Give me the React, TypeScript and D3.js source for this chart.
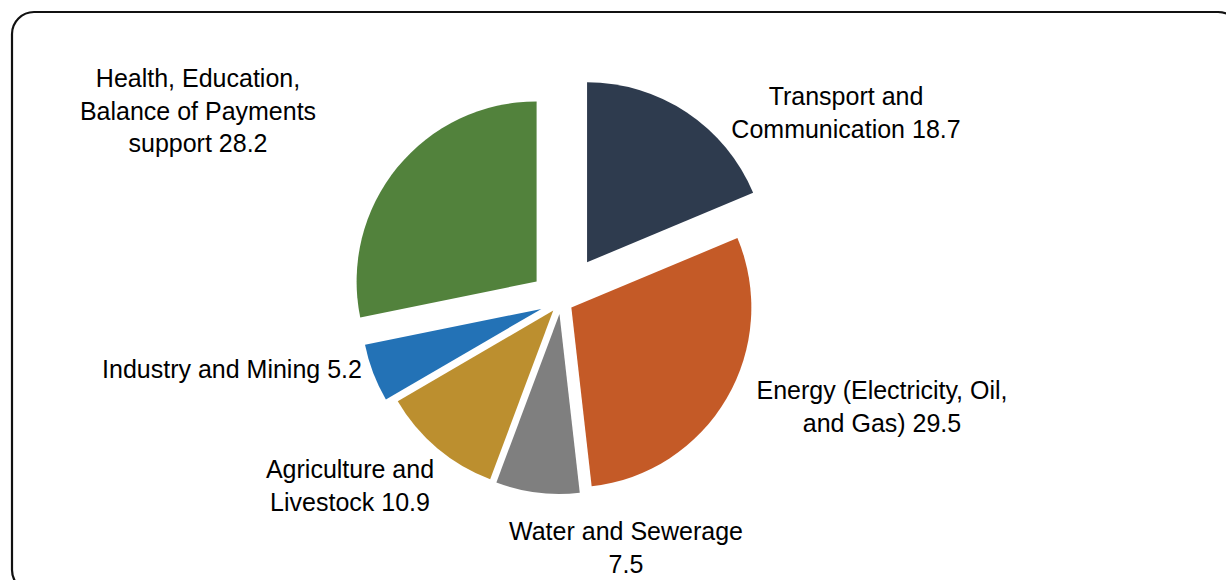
import React from "react";
import * as d3 from "d3";

const categories = [
  "Transport and Communication",
  "Energy (Electricity, Oil, and Gas)",
  "Water and Sewerage",
  "Agriculture and Livestock",
  "Industry and Mining",
  "Health, Education, Balance of Payments support",
];
const values = [18.7, 29.5, 7.5, 10.9, 5.2, 28.2];
const labelLines = [
  ["Transport and", "Communication"],
  ["Energy (Electricity, Oil,", "and Gas)"],
  ["Water and Sewerage", ""],
  ["Agriculture and", "Livestock"],
  ["Industry and Mining"],
  ["Health, Education,", "Balance of Payments", "support"],
];

// style / layout (not data)
const colors = ["#2E3B4E", "#C45A27", "#7F7F7F", "#BC8F2F", "#2372B6", "#52823C"];
const explode = [47, 12, 12.6, 12, 21, 31.5];
const labelPos = [
  { x: 846, y: 105 },
  { x: 882, y: 399 },
  { x: 626, y: 540 },
  { x: 350, y: 478 },
  { x: 232, y: 378 },
  { x: 198, y: 87 },
];

const W = 1226;
const H = 580;
const CX = 561;
const CY = 301.4;
const R = 180;
const LH = 32.5;

export default function App() {
  const data = categories.map((c, i) => ({ c, v: values[i], i }));
  const pie = d3
    .pie<any>()
    .sort(null)
    .value((d: any) => d.v)
    .startAngle(0)
    .endAngle(2 * Math.PI);
  const arcs = pie(data);
  const arc = d3.arc<any>().innerRadius(0).outerRadius(R);

  return (
    <svg
      width={W}
      height={H}
      style={{ position: "absolute", left: 0, top: 0, background: "#fff" }}
      fontFamily="'Liberation Sans', Arial, sans-serif"
    >
      <rect x={0} y={0} width={W} height={H} fill="#fff" />
      <rect
        x={12}
        y={12}
        width={1228}
        height={580}
        rx={22}
        ry={22}
        fill="none"
        stroke="#111"
        strokeWidth={2.2}
      />
      <g transform={`translate(${CX},${CY})`}>
        {arcs.map((a: any, i: number) => {
          const mid = (a.startAngle + a.endAngle) / 2;
          const dx = explode[i] * Math.sin(mid);
          const dy = -explode[i] * Math.cos(mid);
          return (
            <path
              key={i}
              d={arc(a) as string}
              transform={`translate(${dx},${dy})`}
              fill={colors[i]}
            />
          );
        })}
      </g>
      {labelLines.map((lines, i) => {
        const ls = lines.slice();
        const last = ls[ls.length - 1];
        ls[ls.length - 1] = (last ? last + " " : "") + values[i];
        return (
          <text
            key={i}
            x={labelPos[i].x}
            y={labelPos[i].y}
            textAnchor="middle"
            fontSize={25}
            fill="#000"
          >
            {ls.map((l, j) => (
              <tspan key={j} x={labelPos[i].x} y={labelPos[i].y + j * LH}>
                {l}
              </tspan>
            ))}
          </text>
        );
      })}
    </svg>
  );
}
